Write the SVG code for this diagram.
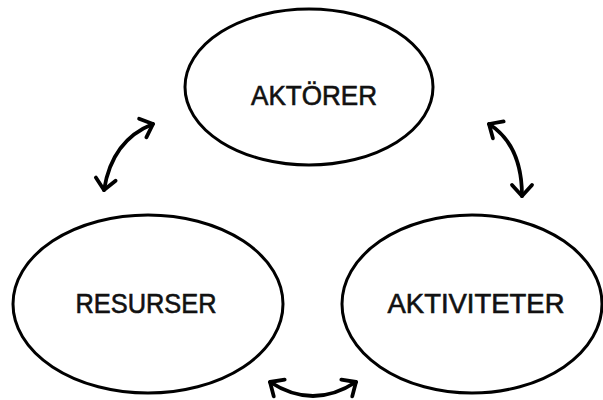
<svg xmlns="http://www.w3.org/2000/svg" width="603" height="400" viewBox="0 0 603 400">
<style>
.node ellipse{fill:#fff;stroke:#000;stroke-width:3}
.node text{font-family:"Liberation Sans","DejaVu Sans",sans-serif;font-size:27px;fill:#111;stroke:#111;stroke-width:0.6;text-anchor:middle}
.conn path{fill:none;stroke:#000;stroke-width:3.8;stroke-linecap:round}
</style>
<defs>
<marker id="ah" markerUnits="userSpaceOnUse" markerWidth="34" markerHeight="34" viewBox="-17 -17 34 34" refX="0" refY="0" orient="auto-start-reverse">
<path d="M-11,-10 L0,0 L-11,10" fill="none" stroke="#000" stroke-width="3.8" stroke-linecap="round" stroke-linejoin="round"/>
</marker>
</defs>
<rect width="603" height="400" fill="#fff"/>
<g id="aktorer" class="node">
<ellipse cx="309" cy="87" rx="124" ry="78"/>
<text x="314" y="105" textLength="126" lengthAdjust="spacingAndGlyphs">AKTÖRER</text>
</g>
<g id="resurser" class="node">
<ellipse cx="148" cy="304" rx="135" ry="89"/>
<text x="146" y="313" textLength="141" lengthAdjust="spacingAndGlyphs">RESURSER</text>
</g>
<g id="aktiviteter" class="node">
<ellipse cx="472" cy="304" rx="130" ry="89"/>
<text x="476" y="313" textLength="177" lengthAdjust="spacingAndGlyphs">AKTIVITETER</text>
</g>
<g id="connectors" class="conn">
<path d="M153,124 Q112,140 104,190" marker-start="url(#ah)" marker-end="url(#ah)"/>
<path d="M489,124 Q522,145 522,196" marker-start="url(#ah)" marker-end="url(#ah)"/>
<path d="M270,382 Q313,410 356,382" marker-start="url(#ah)" marker-end="url(#ah)"/>
</g>
</svg>
